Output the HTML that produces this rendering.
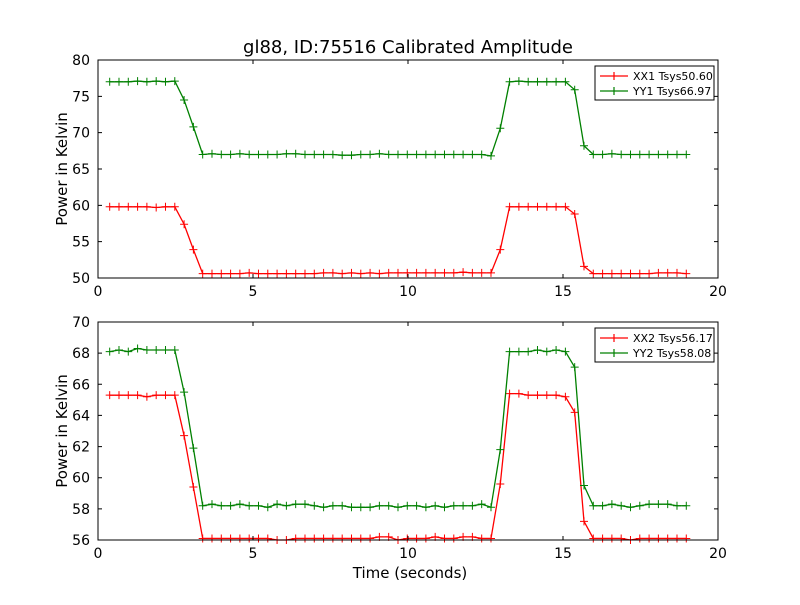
<!DOCTYPE html>
<html><head><meta charset="utf-8"><style>
body{margin:0;background:#fff;width:800px;height:600px;overflow:hidden;font-family:"Liberation Sans","DejaVu Sans",sans-serif}
svg text{font-family:"DejaVu Sans","Liberation Sans",sans-serif}
</style></head><body>
<svg id="chart" width="800" height="600" xmlns="http://www.w3.org/2000/svg"></svg>
<script>
const yy1=[77.0,77.0,77.0,77.1,77.0,77.1,77.0,77.1,74.5,70.8,
67.0,67.1,67.0,67.0,67.1,67.0,67.0,67.0,67.0,67.1,67.1,67.0,67.0,67.0,67.0,66.9,66.9,67.0,67.0,67.1,67.0,67.0,67.0,67.0,67.0,67.0,67.0,67.0,67.0,67.0,67.0,66.8,
70.6,77.0,77.1,77.0,77.0,77.0,77.0,77.0,75.9,68.2,
67.0,67.0,67.1,67.0,67.0,67.0,67.0,67.0,67.0,67.0,67.0];
const xx1=[59.8,59.8,59.8,59.8,59.8,59.7,59.8,59.8,57.4,53.9,
50.6,50.6,50.6,50.6,50.6,50.7,50.6,50.6,50.6,50.6,50.6,50.6,50.6,50.7,50.7,50.6,50.7,50.6,50.7,50.6,50.7,50.7,50.7,50.7,50.7,50.7,50.7,50.7,50.8,50.7,50.7,50.7,
53.9,59.8,59.8,59.8,59.8,59.8,59.8,59.8,58.8,51.6,
50.6,50.6,50.6,50.6,50.6,50.6,50.6,50.7,50.7,50.7,50.6];
const yy2=[68.1,68.2,68.1,68.3,68.2,68.2,68.2,68.2,65.5,61.9,
58.2,58.3,58.2,58.2,58.3,58.2,58.2,58.1,58.3,58.2,58.3,58.3,58.2,58.1,58.2,58.2,58.1,58.1,58.1,58.2,58.2,58.1,58.2,58.2,58.1,58.2,58.1,58.2,58.2,58.2,58.3,58.1,
61.8,68.1,68.1,68.1,68.2,68.1,68.2,68.1,67.1,59.5,
58.2,58.2,58.3,58.2,58.1,58.2,58.3,58.3,58.3,58.2,58.2];
const xx2=[65.3,65.3,65.3,65.3,65.2,65.3,65.3,65.3,62.7,59.4,
56.1,56.1,56.1,56.1,56.1,56.1,56.1,56.1,56.0,56.0,56.1,56.1,56.1,56.1,56.1,56.1,56.1,56.1,56.1,56.2,56.2,56.0,56.1,56.1,56.1,56.2,56.1,56.1,56.2,56.2,56.1,56.1,
59.6,65.4,65.4,65.3,65.3,65.3,65.3,65.2,64.2,57.2,
56.1,56.1,56.1,56.1,56.0,56.1,56.1,56.1,56.1,56.1,56.1];
const t0=0.377, dt=0.3;
const xTicks=[0,5,10,15,20];
const yTicksTop=[50,55,60,65,70,75,80];
const yTicksBot=[56,58,60,62,64,66,68,70];
const legendTop=["XX1 Tsys50.60","YY1 Tsys66.97"];
const legendBot=["XX2 Tsys56.17","YY2 Tsys58.08"];

const NS="http://www.w3.org/2000/svg";
const svg=document.getElementById('chart');
function mk(tag,attrs,parent){const e=document.createElementNS(NS,tag);for(const k in attrs)e.setAttribute(k,attrs[k]);(parent||svg).appendChild(e);return e;}
const L=98,R=718;
function xs(v){return L+(v-0)/(20-0)*(R-L);}

function panel(name,top,bot,ymin,ymax,yt,series,labels){
  const g=mk('g',{});
  
  
  const ys=v=>bot-(v-ymin)/(ymax-ymin)*(bot-top);
  mk('rect',{x:L,y:top,width:R-L,height:bot-top,fill:'#fff',stroke:'none'},g);
  const colors=['#ff0000','#008000'];
  series.forEach((s,si)=>{
    const sg=mk('g',{},g);
    
    
    let d='';
    s.forEach((v,i)=>{d+=(i?'L':'M')+xs(t0+dt*i).toFixed(2)+' '+ys(v).toFixed(2);});
    mk('path',{d:d,fill:'none',stroke:colors[si],'stroke-width':1.3},sg);
    s.forEach((v,i)=>{const x=xs(t0+dt*i),y=ys(v);
      mk('path',{d:`M${x-4} ${y}H${x+4}M${x} ${y-4}V${y+4}`,stroke:colors[si],'stroke-width':1},sg);});
  });
  mk('rect',{x:L,y:top,width:R-L,height:bot-top,fill:'none',stroke:'#000','stroke-width':1},g);
  xTicks.forEach(v=>{const x=xs(v);
    mk('path',{d:`M${x} ${bot}v-4M${x} ${top}v4`,stroke:'#000'},g);
    const tx=mk('text',{x:x,y:bot+18,'font-size':14,'text-anchor':'middle'},g);tx.textContent=v;
    
    
  });
  yt.forEach(v=>{const y=ys(v);
    mk('path',{d:`M${L} ${y}h4M${R} ${y}h-4`,stroke:'#000'},g);
    const tx=mk('text',{x:L-8,y:y+5,'font-size':14,'text-anchor':'end'},g);tx.textContent=v;
    
    
  });
  const yl=mk('text',{x:0,y:0,'font-size':15,'text-anchor':'middle',transform:`translate(67 ${(top+bot)/2}) rotate(-90)`},g);
  yl.textContent='Power in Kelvin';
  
  
  const lg=mk('g',{},g);
  
  
  const lx=595,ly=top+6;
  mk('rect',{x:lx,y:ly,width:119,height:34,fill:'#fff',stroke:'#000'},lg);
  labels.forEach((lab,i)=>{const yy=ly+10+i*15;
    const e=mk('g',{},lg);
    
    
    mk('path',{d:`M${lx+5} ${yy}h28M${lx+19} ${yy-4}v8M${lx+15} ${yy}h8`,stroke:colors[i],'stroke-width':1.2},e);
    const tx=mk('text',{x:lx+38,y:yy+4,'font-size':11},e);tx.textContent=lab;
  });
}
panel('top-panel',60,278,50,80,yTicksTop,[xx1,yy1],legendTop);
panel('bottom-panel',322,540,56,70,yTicksBot,[xx2,yy2],legendBot);
const title=mk('text',{x:408,y:53,'font-size':18,'text-anchor':'middle'});
title.textContent='gl88, ID:75516 Calibrated Amplitude';


const xl=mk('text',{x:410,y:578,'font-size':15,'text-anchor':'middle'});
xl.textContent='Time (seconds)';


</script>
</body></html>
